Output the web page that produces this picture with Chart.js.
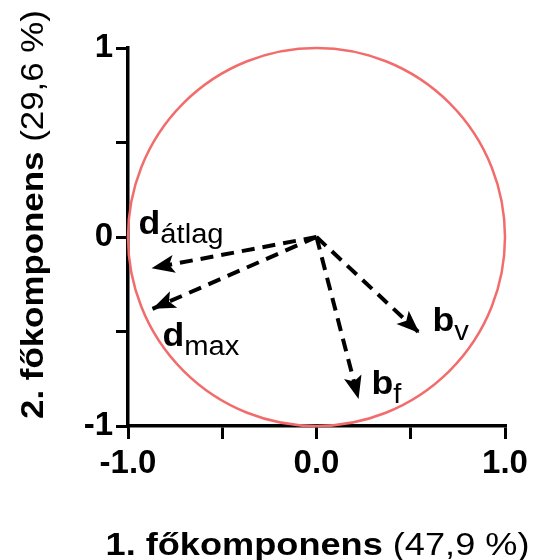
<!DOCTYPE html>
<html>
<head>
<meta charset="utf-8">
<script src="https://cdn.jsdelivr.net/npm/chart.js@4"></script>
<style>
  html, body { margin: 0; padding: 0; background: #fff; }
  #wrap { width: 533px; height: 560px; }
</style>
</head>
<body>
<div id="wrap"><canvas id="container"></canvas></div>
<script>
// loadings
const names = ["d", "d", "b", "b"];
const subs = ["átlag", "max", "v", "f"];
const pc1 = [-0.875, -0.87, 0.546, 0.223];
const pc2 = [-0.165, -0.38, -0.508, -0.857];
const xTickLabels = ["-1.0", "0.0", "1.0"];
const yTickLabels = ["-1", "0", "1"];
const circleRadius = 1;
const xTitle = ["1. főkomponens", "(47,9 %)"];
const yTitle = ["2. főkomponens", "(29,6 %)"];

const FONT = '"Liberation Sans", Arial, sans-serif';
const labelOffsets = [[-13, -34], [10, 37], [13, -2], [13, -5]];

// draw runs of text (bold/normal, with baseline shifts), stretched wide
function drawRuns(ctx, runs, x, y, stretch, draw) {
  ctx.save();
  ctx.translate(x, y);
  ctx.scale(stretch, 1);
  let w = 0;
  runs.forEach(r => {
    ctx.font = r.font;
    if (draw) ctx.fillText(r.text, w, r.dy || 0);
    w += ctx.measureText(r.text).width;
  });
  ctx.restore();
  return w * stretch;
}

const datasets = names.map((n, i) => ({
  label: n + "_" + subs[i],
  data: [{ x: 0, y: 0 }, { x: pc1[i], y: pc2[i] }],
  showLine: true,
  borderColor: "#000",
  borderWidth: 4,
  borderDash: [13, 8],
  pointRadius: 0,
  fill: false,
}));

const circlePlugin = {
  id: "unitCircle",
  beforeDatasetsDraw(chart) {
    const { ctx, scales: { x, y } } = chart;
    const cx = x.getPixelForValue(0), cy = y.getPixelForValue(0);
    const rx = x.getPixelForValue(circleRadius) - cx;
    const ry = cy - y.getPixelForValue(circleRadius);
    ctx.save();
    ctx.strokeStyle = "rgb(242,108,108)";
    ctx.lineWidth = 2.5;
    ctx.beginPath();
    ctx.ellipse(cx, cy, rx, ry, 0, 0, Math.PI * 2);
    ctx.stroke();
    ctx.restore();
  },
};

const arrowPlugin = {
  id: "arrows",
  afterDatasetsDraw(chart) {
    const ctx = chart.ctx;
    ctx.save();
    ctx.fillStyle = "#000";
    chart.data.datasets.forEach((ds, i) => {
      const pts = chart.getDatasetMeta(i).data;
      const p0 = pts[0], p1 = pts[1];
      const dx = p1.x - p0.x, dy = p1.y - p0.y;
      const len = Math.hypot(dx, dy);
      const ux = dx / len, uy = dy / len;
      const nx = -uy, ny = ux;
      const L = 23, W = 9;
      ctx.beginPath();
      ctx.moveTo(p1.x, p1.y);
      ctx.lineTo(p1.x - ux * L + nx * W, p1.y - uy * L + ny * W);
      ctx.lineTo(p1.x - ux * L * 0.78, p1.y - uy * L * 0.78);
      ctx.lineTo(p1.x - ux * L - nx * W, p1.y - uy * L - ny * W);
      ctx.closePath();
      ctx.fill();

      // label with subscript
      const [ox, oy] = labelOffsets[i];
      drawRuns(ctx, [
        { text: names[i], font: "bold 33px " + FONT },
        { text: subs[i], font: "27px " + FONT, dy: 9 },
      ], p1.x + ox, p1.y + oy, 1.08, true);
    });
    ctx.restore();
  },
};

const titlePlugin = {
  id: "axisTitles",
  afterDraw(chart) {
    const { ctx, chartArea } = chart;
    ctx.save();
    ctx.fillStyle = "#000";
    ctx.textBaseline = "alphabetic";
    const xr = [
      { text: xTitle[0] + " ", font: "bold 32px " + FONT },
      { text: xTitle[1], font: "32px " + FONT },
    ];
    const wx = drawRuns(ctx, xr, 0, 0, 1.13, false);
    drawRuns(ctx, xr, (chartArea.left + chartArea.right) / 2 - wx / 2 + 1, 555, 1.13, true);

    const yr = [
      { text: yTitle[0] + " ", font: "bold 32px " + FONT },
      { text: yTitle[1], font: "32px " + FONT },
    ];
    ctx.translate(43, 419);
    ctx.rotate(-Math.PI / 2);
    drawRuns(ctx, yr, 0, 0, 1.09, true);
    ctx.restore();
  },
};

const tickFont = { family: FONT, size: 33, weight: "bold" };

const config = {
  type: "scatter",
  data: { datasets: datasets },
  options: {
    responsive: true,
    maintainAspectRatio: false,
    animation: false,
    layout: { padding: { top: 48, right: 28, left: 0, bottom: 0 } },
    plugins: {
      legend: { display: false },
      tooltip: { enabled: false },
    },
    scales: {
      x: {
        type: "linear",
        min: -1,
        max: 1,
        afterFit: (s) => { s.height = 134; },
        border: { display: true, color: "#000", width: 3.5 },
        grid: { drawOnChartArea: false, drawTicks: true, tickLength: 13, color: "#000", lineWidth: 3 },
        ticks: {
          stepSize: 0.5,
          autoSkip: false,
          maxRotation: 0,
          padding: 5,
          color: "#000",
          font: tickFont,
          callback: (v) => {
            const k = [-1, 0, 1].indexOf(v);
            return k >= 0 ? xTickLabels[k] : "";
          },
        },
      },
      y: {
        type: "linear",
        min: -1,
        max: 1,
        afterFit: (s) => { s.width = 128; },
        border: { display: true, color: "#000", width: 3.5 },
        grid: { drawOnChartArea: false, drawTicks: true, tickLength: 12, color: "#000", lineWidth: 3 },
        ticks: {
          stepSize: 0.5,
          autoSkip: false,
          padding: 3,
          color: "#000",
          font: tickFont,
          callback: (v) => {
            const k = [-1, 0, 1].indexOf(v);
            return k >= 0 ? yTickLabels[k] : "";
          },
        },
      },
    },
  },
  plugins: [circlePlugin, arrowPlugin, titlePlugin],
};

const chart = new Chart(document.getElementById("container"), config);
</script>
</body>
</html>
